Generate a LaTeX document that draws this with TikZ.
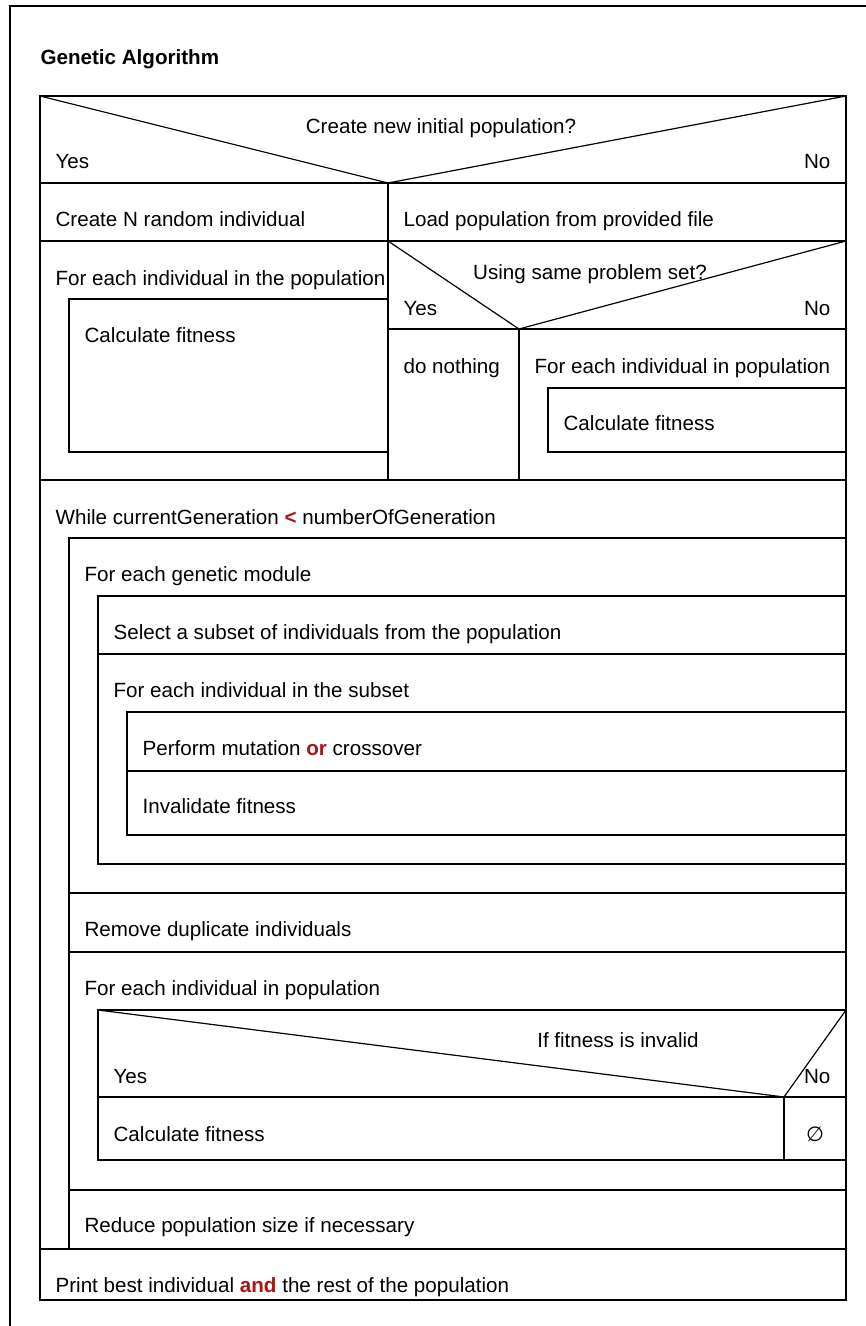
\documentclass[tikz,border=0pt]{standalone}
\usepackage{fontspec}
\setmainfont{Liberation Sans}
\newfontfamily\symfont{DejaVu Sans}
\usetikzlibrary{positioning}
\definecolor{keyred}{RGB}{170,20,20}
\newcommand{\keyw}[1]{\textcolor{keyred}{\textbf{#1}}}

\begin{document}
\begin{tikzpicture}[x=1pt,y=-1pt,line width=1.2pt,
txt/.style={anchor=base west,inner sep=0pt,font=\fontsize{20.6}{24}\selectfont},
mid/.style={txt,anchor=base},
rgt/.style={txt,anchor=base east},
box/.style={draw,line width=1.2pt}]
\useasboundingbox (0,0) rectangle (866,1326);
% outer frame, cut by the page
\draw (10,1340) |- (880,6);
\node[txt,font=\fontsize{20.6}{24}\selectfont\bfseries] (title) at (40,64) {Genetic Algorithm};

% first decision
\draw[box] (40,96) rectangle (846,183);
\draw (40,96)--(388,183)--(846,96);
\node[mid] (ask1) at (441,133) {Create new initial population?};
\node[txt] (yes1) at (55,168) {Yes};
\node[rgt] (no1) at (831,168) {No};
\draw[box] (40,183) rectangle (388,241);
\draw[box] (388,183) rectangle (846,241);
\node[txt] (create) at (55,226) {Create N random individual};
\node[txt] (load) at (403,226) {Load population from provided file};

% yes branch: fitness of new population
\draw[box] (40,241) rectangle (388,480);
\draw[box] (69,299) rectangle (388,452);
\node[txt] (loopA) at (55,285) {For each individual in the population};
\node[txt] (fitA) at (84,342) {Calculate fitness};

% no branch: second decision
\draw[box] (388,241) rectangle (846,329);
\draw (388,241)--(519,329)--(846,241);
\node[mid] (ask2) at (590,279) {Using same problem set?};
\node[txt] (yes2) at (403,315) {Yes};
\node[rgt] (no2) at (831,315) {No};
\draw[box] (388,329) rectangle (519,480);
\draw[box] (519,329) rectangle (846,480);
\draw[box] (548,388) rectangle (846,452);
\node[txt] (skip) at (403,373) {do nothing};
\node[txt] (loopB) at (534,373) {For each individual in population};
\node[txt] (fitB) at (563,430) {Calculate fitness};

% main loop
\draw[box] (40,480) rectangle (846,1249);
\node[txt] (while) at (55,524) {While currentGeneration \keyw{<} numberOfGeneration};
\draw[box] (69,538) rectangle (846,893);
\node[txt] (module) at (84,581) {For each genetic module};
\draw[box] (98,596) rectangle (846,654);
\node[txt] (select) at (113,639) {Select a subset of individuals from the population};
\draw[box] (98,654) rectangle (846,864);
\node[txt] (loopC) at (113,697) {For each individual in the subset};
\draw[box] (127,712) rectangle (846,771);
\draw[box] (127,771) rectangle (846,835);
\node[txt] (mutate) at (142,755) {Perform mutation \keyw{or} crossover};
\node[txt] (invalid) at (142,813) {Invalidate fitness};
\draw[box] (69,893) rectangle (846,952);
\node[txt] (dedup) at (84,936) {Remove duplicate individuals};
\draw[box] (69,952) rectangle (846,1190);
\node[txt] (loopD) at (84,995) {For each individual in population};

% third decision
\draw[box] (98,1010) rectangle (846,1097);
\draw (98,1010)--(784,1097)--(846,1010);
\node[mid] (ask3) at (618,1047) {If fitness is invalid};
\node[txt] (yes3) at (113,1083) {Yes};
\node[rgt] (no3) at (831,1083) {No};
\draw[box] (98,1097) rectangle (784,1160);
\draw[box] (784,1097) rectangle (846,1160);
\node[txt] (fitC) at (113,1141) {Calculate fitness};
\node[txt,anchor=center] (empty) at (815,1134) {\symfont ∅};
\draw[box] (69,1190) rectangle (846,1249);
\node[txt] (reduce) at (84,1232) {Reduce population size if necessary};

% result
\draw[box] (40,1249) rectangle (846,1300);
\node[txt] (print) at (55,1292) {Print best individual \keyw{and} the rest of the population};
\end{tikzpicture}
\end{document}
